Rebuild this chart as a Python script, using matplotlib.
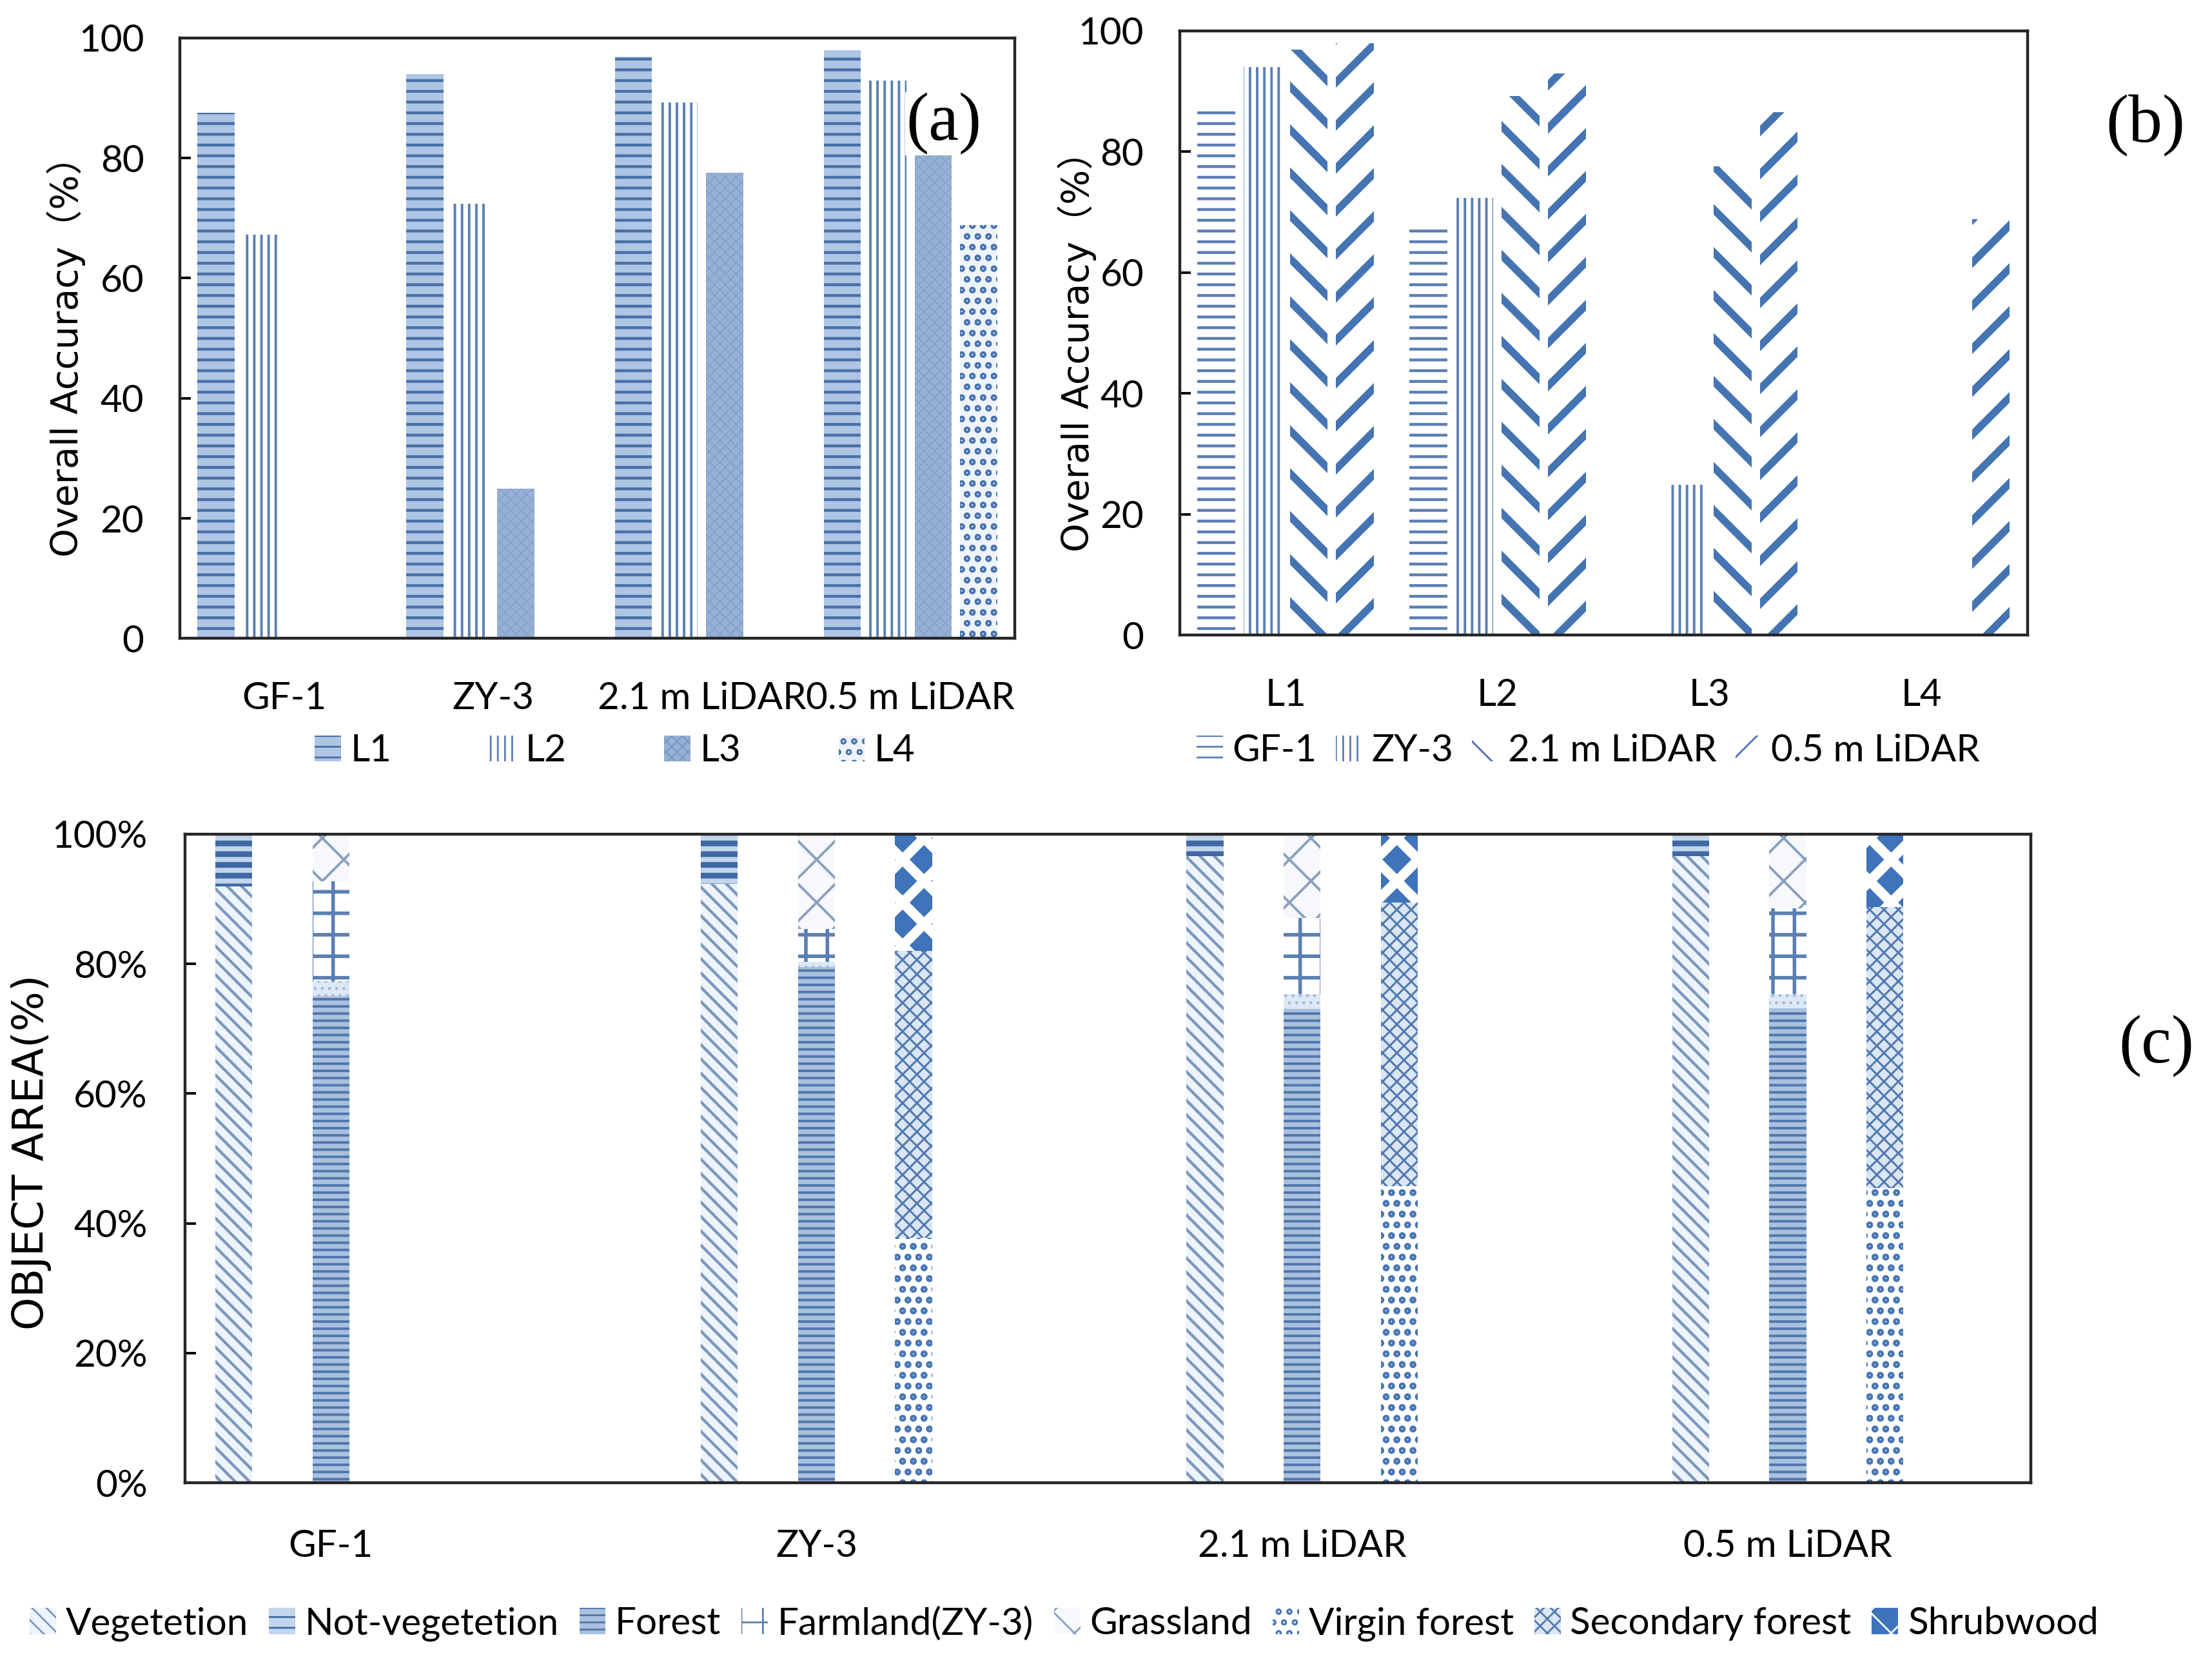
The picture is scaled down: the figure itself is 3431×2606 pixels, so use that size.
import numpy as np
import matplotlib
matplotlib.use('Agg')
import matplotlib.pyplot as plt
from matplotlib.patches import Patch
from matplotlib.ticker import PercentFormatter
from matplotlib import font_manager

# ---------------- data ----------------
sensors = ['GF-1', 'ZY-3', '2.1 m LiDAR', '0.5 m LiDAR']
levels = ['L1', 'L2', 'L3', 'L4']

# overall accuracy (%) for each level, per sensor (nan = no bar)
oa_gf1 = [87.5, 67.2, np.nan, np.nan]
oa_zy3 = [94.0, 72.4, 24.9, np.nan]
oa_lidar21 = [96.9, 89.2, 77.6, np.nan]
oa_lidar05 = [98.0, 92.9, 86.5, 68.8]

# object area (%) per sensor
vegetation = [91.9, 92.3, 96.6, 96.6]
not_vegetation = [8.1, 7.7, 3.4, 3.4]
forest = [75.0, 79.5, 73.1, 73.2]
other_l2 = [2.3, 0.8, 2.2, 2.1]
farmland = [15.4, 5.1, 11.8, 13.3]
grassland = [7.3, 14.6, 12.9, 11.4]
virgin_forest = [0.0, 37.8, 45.7, 45.4]
secondary_forest = [0.0, 44.2, 43.8, 43.4]
shrubwood = [0.0, 18.0, 10.5, 11.2]


# ---------------- fonts ----------------
def has_font(name):
    try:
        font_manager.findfont(font_manager.FontProperties(family=name),
                              fallback_to_default=False)
        return True
    except Exception:
        return False


if has_font('Liberation Sans Narrow'):
    TICK_FONT = ['Liberation Sans Narrow', 'DejaVu Sans']
    TFS = 24.5
else:
    TICK_FONT = ['Lato', 'DejaVu Sans']
    TFS = 21
LABEL_FONT = ['DejaVu Sans', 'Noto Sans CJK SC']
SERIF = ['Liberation Serif', 'DejaVu Serif']
plt.rcParams['font.family'] = TICK_FONT

DARK = '#3e68a3'
SPINE = '#262626'

fig = plt.figure(figsize=(17.155, 13.03), dpi=200)
ax_a = fig.add_axes([0.0813, 0.620, 0.3775, 0.3574])
ax_b = fig.add_axes([0.5333, 0.622, 0.3833, 0.3596])
ax_c = fig.add_axes([0.0837, 0.1174, 0.8343, 0.3861])


def hbar(ax, x, h, w, bottom=0, hatch=None, fc='white', hc=DARK, hlw=1.0):
    with plt.rc_context({'hatch.linewidth': hlw}):
        bars = ax.bar(x, h, w, bottom=bottom, color=fc, edgecolor=hc,
                      hatch=hatch, linewidth=0)
    for b in bars:
        if hasattr(b, 'set_hatch_linewidth'):
            b.set_hatch_linewidth(hlw)
    return bars


def hpatch(label, hatch, fc, hc, hlw):
    with plt.rc_context({'hatch.linewidth': hlw}):
        p = Patch(facecolor=fc, edgecolor=hc, hatch=hatch, linewidth=0, label=label)
    if hasattr(p, 'set_hatch_linewidth'):
        p.set_hatch_linewidth(hlw)
    return p


def style_axes(ax):
    for s in ax.spines.values():
        s.set_color(SPINE)
        s.set_linewidth(1.6)


# ---------------- panel (a) ----------------
oa_by_sensor = [oa_gf1, oa_zy3, oa_lidar21, oa_lidar05]
xg = np.arange(len(sensors))
offs = [-0.327, -0.109, 0.109, 0.327]
bw = 0.178
a_styles = [
    dict(hatch='--', fc='#aec5e3', hc='#4870a8', hlw=1.6),
    dict(hatch='|||', fc='white', hc='#5b7fb3', hlw=1.4),
    dict(hatch='xxxx', fc='#96b1d5', hc='#809dc6', hlw=0.4),
    dict(hatch='oo', fc='#eef3fa', hc='#4a74ae', hlw=1.2),
]
a_handles = []
for li, lev in enumerate(levels):
    vals = np.array([oa_by_sensor[si][li] for si in range(len(sensors))], dtype=float)
    st = a_styles[li]
    hbar(ax_a, xg + offs[li], vals, bw, **st)
    a_handles.append(hpatch(lev, st['hatch'], st['fc'], st['hc'], st['hlw']))

for ax in (ax_a, ax_b):
    ax.set_xlim(-0.5, 3.5)
    ax.set_ylim(0, 100)
    ax.set_yticks([0, 20, 40, 60, 80, 100])
    ax.tick_params(axis='y', direction='in', length=6, width=1.4, labelsize=TFS, pad=20)
    ax.tick_params(axis='x', length=0, labelsize=TFS, pad=24)
    ax.set_ylabel('Overall Accuracy（%）', family=LABEL_FONT, fontsize=20.5)
    ax.yaxis.set_label_coords(-0.113, 0.485)
    style_axes(ax)

ax_b.yaxis.set_label_coords(-0.098, 0.485)

ax_a.set_xticks(xg)
ax_a.set_xticklabels(sensors)
ax_a.text(0.915, 0.857, '(a)', transform=ax_a.transAxes, family=SERIF, fontsize=38,
          ha='center', va='center',
          bbox=dict(facecolor='white', edgecolor='none', pad=0.5))
fig.legend(handles=a_handles, loc='center', bbox_to_anchor=(0.278, 0.553), ncol=4,
           frameon=False, fontsize=TFS, handlelength=0.7, handleheight=0.7,
           handletextpad=0.25, columnspacing=2.6)

# ---------------- panel (b) ----------------
b_styles = [
    dict(hatch='--', fc='white', hc='#5a7fb5', hlw=1.6),
    dict(hatch='|||', fc='white', hc='#5b7fb3', hlw=1.4),
    dict(hatch='\\', fc='white', hc='#4574b2', hlw=4.2),
    dict(hatch='/', fc='white', hc='#4574b2', hlw=4.2),
]
xl = np.arange(len(levels))
b_handles = []
for si, sname in enumerate(sensors):
    vals = np.array(oa_by_sensor[si], dtype=float)
    st = b_styles[si]
    hbar(ax_b, xl + offs[si], vals, bw, **st)
    b_handles.append(hpatch(sname, st['hatch'], st['fc'], st['hc'], min(st['hlw'], 2.5)))

ax_b.set_xticks(xl)
ax_b.set_xticklabels(levels)
fig.legend(handles=b_handles, loc='center', bbox_to_anchor=(0.718, 0.553), ncol=4,
           frameon=False, fontsize=TFS, handlelength=0.7, handleheight=0.7,
           handletextpad=0.25, columnspacing=0.5)
fig.text(0.970, 0.925, '(b)', family=SERIF, fontsize=38, ha='center', va='center')

# ---------------- panel (c) ----------------
cbw = 0.076
coff = [-0.2, 0.0, 0.2]
xs = np.arange(len(sensors))

c_styles = {
    'Vegetetion': dict(hatch='\\\\\\', fc='#eef4fb', hc='#7c97bd', hlw=1.6),
    'Not-vegetetion': dict(hatch='--', fc='#c3d5ec', hc='#3f69a3', hlw=3.2),
    'Forest': dict(hatch='---', fc='#a9c0de', hc='#4f76ab', hlw=1.4),
    'other': dict(hatch='...', fc='#dce8f5', hc='#9fb6d6', hlw=0.8),
    'Farmland(ZY-3)': dict(hatch='+', fc='white', hc='#5b7fb3', hlw=2.0),
    'Grassland': dict(hatch='x', fc='#f6f8fb', hc='#8a9fbe', hlw=1.4),
    'Virgin forest': dict(hatch='oo', fc='white', hc='#4a78b5', hlw=1.4),
    'Secondary forest': dict(hatch='xxx', fc='#dbe6f4', hc='#5279b0', hlw=1.1),
    'Shrubwood': dict(hatch='x', fc='#3f73ba', hc='white', hlw=5.5),
}

l1_series = [('Vegetetion', vegetation), ('Not-vegetetion', not_vegetation)]
l2_series = [('Forest', forest), ('other', other_l2), ('Farmland(ZY-3)', farmland),
             ('Grassland', grassland)]
l3_series = [('Virgin forest', virgin_forest), ('Secondary forest', secondary_forest),
             ('Shrubwood', shrubwood)]
for k, series in enumerate([l1_series, l2_series, l3_series]):
    bottom = np.zeros(len(sensors))
    for name, vals in series:
        v = np.array(vals) / 100.0
        hbar(ax_c, xs + coff[k], v, cbw, bottom=bottom, **c_styles[name])
        bottom = bottom + v

ax_c.set_xlim(-0.3, 3.5)
ax_c.set_ylim(0, 1)
ax_c.set_yticks([0, 0.2, 0.4, 0.6, 0.8, 1.0])
ax_c.yaxis.set_major_formatter(PercentFormatter(1.0, decimals=0))
ax_c.set_xticks(xs)
ax_c.set_xticklabels(sensors)
ax_c.tick_params(axis='y', direction='in', length=6, width=1.4, labelsize=TFS, pad=21)
ax_c.tick_params(axis='x', length=0, labelsize=TFS, pad=26)
ax_c.set_ylabel('OBJECT AREA(%)', family=LABEL_FONT, fontsize=23.5)
ax_c.yaxis.set_label_coords(-0.072, 0.51)
style_axes(ax_c)

c_legend_names = ['Vegetetion', 'Not-vegetetion', 'Forest', 'Farmland(ZY-3)', 'Grassland',
                  'Virgin forest', 'Secondary forest', 'Shrubwood']
c_handles = [hpatch(n, c_styles[n]['hatch'], c_styles[n]['fc'], c_styles[n]['hc'],
                    min(c_styles[n]['hlw'], 2.5)) for n in c_legend_names]
fig.legend(handles=c_handles, loc='center', bbox_to_anchor=(0.481, 0.0336), ncol=8,
           frameon=False, fontsize=TFS, handlelength=0.7, handleheight=0.7,
           handletextpad=0.25, columnspacing=0.55)
fig.text(0.975, 0.377, '(c)', family=SERIF, fontsize=38, ha='center', va='center')

fig.savefig('out.png', dpi=200)
